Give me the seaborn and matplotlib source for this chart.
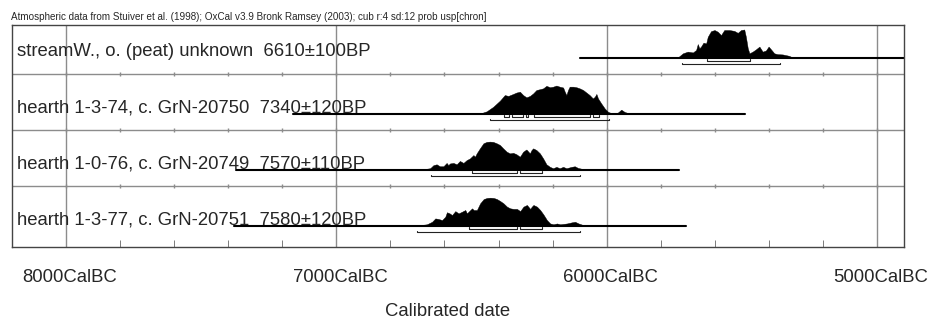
import numpy as np
import seaborn as sns
import matplotlib.pyplot as plt
from matplotlib import transforms
from matplotlib.ticker import MultipleLocator

sns.set_style('white')
plt.rcParams['font.family'] = ['Liberation Sans', 'DejaVu Sans']

header = ('Atmospheric data from Stuiver et al. (1998); OxCal v3.9 Bronk Ramsey (2003); '
          'cub r:4 sd:12 prob usp[chron]')

labels = ['streamW., o. (peat) unknown  6610\u00b1100BP',
          'hearth 1-3-74, c. GrN-20750  7340\u00b1120BP',
          'hearth 1-0-76, c. GrN-20749  7570\u00b1110BP',
          'hearth 1-3-77, c. GrN-20751  7580\u00b1120BP']

# calibrated probability curves (years BC, relative height)
years_1 = [5737, 5718, 5700, 5681, 5669, 5663, 5657, 5651, 5642, 5632, 5626, 5614, 5601,
           5589, 5577, 5565, 5546, 5528, 5515, 5503, 5491, 5485, 5478, 5472, 5460, 5448,
           5435, 5423, 5411, 5401, 5392, 5380, 5368, 5349, 5325, 5312]
prob_1 = [0, 0.15, 0.21, 0.18, 0.27, 0.48, 0.33, 0.39, 0.53, 0.50, 0.74, 0.94, 0.98,
          0.92, 0.80, 0.98, 0.98, 0.95, 0.88, 0.98, 1.0, 0.74, 0.33, 0.15, 0.21, 0.29,
          0.39, 0.21, 0.25, 0.39, 0.29, 0.15, 0.12, 0.11, 0.06, 0]

years_2 = [6469, 6444, 6420, 6395, 6377, 6364, 6346, 6334, 6321, 6309, 6297, 6284, 6272,
           6260, 6247, 6235, 6223, 6210, 6198, 6186, 6174, 6161, 6155, 6149, 6143, 6137,
           6124, 6112, 6100, 6087, 6075, 6063, 6051, 6044, 6038, 6032, 6020, 6007, 5995,
           5983, 5971, 5958, 5946, 5934, 5922, 5903, 5854]
prob_2 = [0, 0.08, 0.24, 0.46, 0.66, 0.63, 0.70, 0.75, 0.78, 0.66, 0.58, 0.63, 0.72,
          0.84, 0.87, 0.90, 0.99, 0.94, 0.96, 1.0, 0.96, 0.93, 0.78, 0.66, 0.84, 0.96,
          0.96, 0.94, 0.90, 0.84, 0.75, 0.66, 0.54, 0.60, 0.70, 0.54, 0.36, 0.18, 0.06,
          0.02, 0, 0.04, 0.14, 0.06, 0.02, 0.01, 0]

years_3 = [6690, 6653, 6641, 6629, 6617, 6604, 6592, 6586, 6580, 6567, 6555, 6543, 6530,
           6518, 6506, 6493, 6487, 6481, 6469, 6456, 6444, 6432, 6420, 6407, 6395, 6383,
           6370, 6358, 6346, 6334, 6321, 6309, 6297, 6284, 6278, 6272, 6260, 6247, 6235,
           6223, 6210, 6198, 6186, 6174, 6161, 6149, 6130, 6118, 6106, 6087, 6063]
prob_3 = [0, 0.05, 0.16, 0.19, 0.12, 0.12, 0.24, 0.16, 0.22, 0.24, 0.19, 0.31, 0.24,
          0.34, 0.40, 0.52, 0.46, 0.58, 0.76, 0.94, 0.99, 1.0, 0.99, 0.94, 0.88, 0.76,
          0.64, 0.58, 0.60, 0.55, 0.46, 0.64, 0.72, 0.58, 0.70, 0.76, 0.70, 0.58, 0.40,
          0.19, 0.10, 0.05, 0.10, 0.05, 0.10, 0.05, 0.10, 0.12, 0.06, 0.02, 0]

years_4 = [6708, 6665, 6646, 6634, 6622, 6609, 6597, 6591, 6581, 6572, 6560, 6548, 6535,
           6523, 6517, 6511, 6498, 6492, 6480, 6468, 6455, 6443, 6431, 6418, 6406, 6394,
           6382, 6369, 6357, 6345, 6332, 6320, 6308, 6295, 6283, 6277, 6271, 6258, 6246,
           6234, 6221, 6209, 6197, 6184, 6172, 6147, 6129, 6117, 6104, 6086, 6061]
prob_4 = [0, 0.05, 0.14, 0.26, 0.24, 0.20, 0.32, 0.48, 0.44, 0.38, 0.52, 0.44, 0.50,
          0.56, 0.44, 0.50, 0.62, 0.56, 0.56, 0.80, 0.95, 0.99, 1.0, 0.99, 0.95, 0.88,
          0.80, 0.68, 0.62, 0.60, 0.60, 0.52, 0.68, 0.74, 0.60, 0.68, 0.74, 0.68, 0.56,
          0.40, 0.20, 0.08, 0.05, 0.08, 0.05, 0.08, 0.12, 0.14, 0.08, 0.02, 0]

# extent of the horizontal line of each row (years BC)
line_extent = [(6097, 4900), (7162, 5488), (7373, 5731), (7380, 5706)]

# 68.2% and 95.4% ranges (years BC)
range68 = [[(5630, 5470)],
           [(6380, 6360), (6350, 6310), (6300, 6290), (6270, 6060), (6050, 6030)],
           [(6500, 6330), (6320, 6240)],
           [(6510, 6330), (6320, 6240)]]
range95 = [[(5720, 5360)],
           [(6430, 5990)],
           [(6650, 6100)],
           [(6700, 6100)]]

major_years = [8000, 7000, 6000, 5000]

curves = [(years_1, prob_1), (years_2, prob_2), (years_3, prob_3), (years_4, prob_4)]

fig = plt.figure(figsize=(9.3, 3.21), dpi=100)
ax = fig.add_axes([12 / 930, 74 / 321, 892 / 930, 222 / 321])

grid_col = '#8c8c8c'
for yr in major_years:
    ax.axvline(-yr, color=grid_col, lw=1, zorder=0)

# small ticks on the row separators every 200 years
minor_years = np.arange(8000, 4900, -200)
lab_tr = transforms.blended_transform_factory(ax.transAxes, ax.transData)

for k, (yrs, p) in enumerate(curves):
    base = 3 - k
    if k < 3:
        ax.axhline(base - 0.3, color=grid_col, lw=1, zorder=0)
        ax.plot(-minor_years, np.full(len(minor_years), base - 0.3),
                ls='none', marker='|', ms=3, color=grid_col)
    x0, x1 = line_extent[k]
    sns.lineplot(x=[-x0, -x1], y=[base, base], color='black', lw=1.5, ax=ax)
    yrs = np.array(yrs)
    ax.fill_between(-yrs, base, base + 0.5 * np.array(p), color='black', lw=0.3)
    for lvl, rngs in ((-0.06, range68[k]), (-0.12, range95[k])):
        for a, b in rngs:
            ax.plot([-a, -a, -b, -b],
                    [base + lvl + 0.03, base + lvl, base + lvl, base + lvl + 0.03],
                    color='#222222', lw=0.8)
    ax.text(0.0056, base + 0.02, labels[k], transform=lab_tr, fontsize=13.3,
            va='baseline', ha='left')

ax.set_xlim(-8200, -4900)
ax.set_ylim(-0.38, 3.58)
ax.set_yticks([])
ax.set_xticks([-y for y in major_years])
ax.set_xticklabels([f'{y}CalBC' for y in major_years], fontsize=13.3)
ax.xaxis.set_minor_locator(MultipleLocator(200))
ax.tick_params(axis='x', which='both', direction='in', bottom=True, top=False,
               length=5, color='#666666', pad=16)
ax.tick_params(axis='x', which='major', length=0)
for s in ax.spines.values():
    s.set_color('#444444')
    s.set_linewidth(1)

# labels sit a few pixels right of their gridline in the original
shift = transforms.ScaledTranslation(4 / 100, 0, fig.dpi_scale_trans)
for lbl in ax.get_xticklabels():
    lbl.set_transform(lbl.get_transform() + shift)

ax.set_xlabel('Calibrated date', fontsize=13.3)
ax.xaxis.set_label_coords(0.488, -0.254)

fig.text(11 / 930, 1 - 20.5 / 321, header, fontsize=7.1, va='baseline')

fig.savefig('out.png', dpi=100)
